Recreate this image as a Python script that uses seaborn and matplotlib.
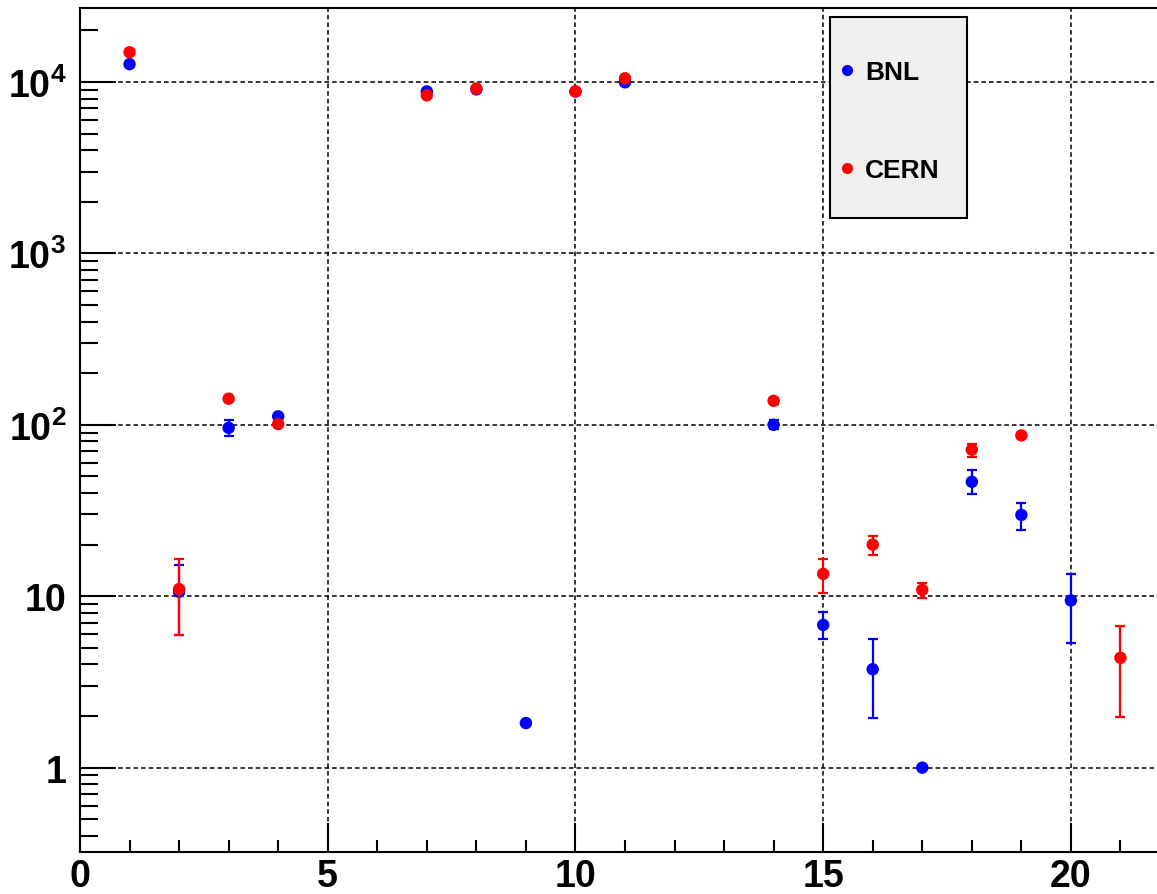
import numpy as np
import pandas as pd
import matplotlib
matplotlib.use("Agg")
import matplotlib.pyplot as plt
from matplotlib.ticker import MultipleLocator, LogLocator, FuncFormatter, NullFormatter
from matplotlib.lines import Line2D
from matplotlib.patches import Rectangle
import seaborn as sns

# ---- data ----
bnl_x = [1, 2, 3, 4, 7, 8, 9, 10, 11, 14, 15, 16, 17, 18, 19, 20]
bnl_y = [12700, 10.6, 96, 112, 8800, 9050, 1.82, 8800, 9950, 100, 6.8, 3.75, 1.0, 46.5, 29.8, 9.45]
bnl_lo = [110, 4.7, 10, 4, 95, 95, 0, 95, 100, 6, 1.2, 1.8, 0, 7.0, 5.5, 4.1]
bnl_hi = [110, 4.7, 10, 4, 95, 95, 0, 95, 100, 6, 1.3, 1.9, 0, 7.7, 5.2, 4.1]

cern_x = [1, 2, 3, 4, 7, 8, 10, 11, 14, 15, 16, 17, 18, 19, 21]
cern_y = [14900, 11.0, 142, 101, 8350, 9150, 8800, 10500, 138, 13.5, 20.0, 10.9, 71.6, 86.7, 4.37]
cern_lo = [120, 5.1, 5, 4, 90, 95, 95, 100, 5, 3.1, 2.5, 1.2, 6.7, 3.0, 2.4]
cern_hi = [120, 5.5, 5, 4, 90, 95, 95, 100, 5, 3.0, 2.6, 1.0, 5.7, 3.0, 2.3]

series_names = ["BNL", "CERN"]
series_colors = ["#0000ff", "#ff0000"]
x_ticklabels = ["0", "5", "10", "15", "20"]

# ---- style ----
sns.set_style("ticks")
plt.rcParams['font.family'] = ['Liberation Sans', 'DejaVu Sans']
plt.rcParams['mathtext.fontset'] = 'custom'
plt.rcParams['mathtext.rm'] = 'Liberation Sans:bold'
plt.rcParams['mathtext.bf'] = 'Liberation Sans:bold'
plt.rcParams['mathtext.it'] = 'Liberation Sans:bold'
plt.rcParams['text.color'] = 'black'

W, H = 1157, 895
fig = plt.figure(figsize=(W / 100, H / 100), dpi=100)
fig.patch.set_facecolor("white")
ax_left, ax_bottom = 80 / W, (H - 853) / H
ax_w, ax_h = (1170 - 80) / W, (853 - 9) / H
ax = fig.add_axes([ax_left, ax_bottom, ax_w, ax_h])

df_bnl = pd.DataFrame({"x": bnl_x, "y": bnl_y, "src": series_names[0]})
df_cern = pd.DataFrame({"x": cern_x, "y": cern_y, "src": series_names[1]})

ax.set_yscale("log")
ax.set_xlim(0, 22)
ax.set_ylim(0.322, 27000)
ax.set_axisbelow(True)

for df, lo, hi, col, z in [(df_bnl, bnl_lo, bnl_hi, series_colors[0], 3),
                           (df_cern, cern_lo, cern_hi, series_colors[1], 5)]:
    ax.errorbar(df["x"], df["y"], yerr=[lo, hi], fmt="none", ecolor=col,
                elinewidth=1.6, capsize=3.5, capthick=1.6, zorder=z)
    sns.scatterplot(data=df, x="x", y="y", color=col, s=80, linewidth=0,
                    edgecolor="none", ax=ax, legend=False, zorder=z + 1)

ax.set_xlabel("")
ax.set_ylabel("")

# grid
ax.grid(True, which="major", axis="both", color="black",
        linestyle=(0, (3, 2)), linewidth=1.1)
ax.grid(False, which="minor")

# ticks
ax.xaxis.set_major_locator(MultipleLocator(5))
ax.xaxis.set_minor_locator(MultipleLocator(1))
ax.xaxis.set_major_formatter(FuncFormatter(
    lambda v, p: x_ticklabels[int(round(v / 5))] if 0 <= round(v / 5) < len(x_ticklabels) else ""))
ax.yaxis.set_major_locator(LogLocator(base=10, numticks=20))
ax.yaxis.set_minor_locator(LogLocator(base=10, subs=np.arange(2, 10), numticks=50))
ax.yaxis.set_minor_formatter(NullFormatter())


def yfmt(v, p):
    e = int(round(np.log10(v)))
    if e == 0:
        return "1"
    if e == 1:
        return "10"
    return r"$10^{%d}$" % e


ax.yaxis.set_major_formatter(FuncFormatter(yfmt))

ax.tick_params(axis="y", which="major", direction="in", length=26, width=1.5,
               labelsize=27, pad=10, left=True, right=False, colors="black", labelcolor="black")
ax.tick_params(axis="y", which="minor", direction="in", length=13, width=1.5,
               left=True, right=False, colors="black")
ax.tick_params(axis="x", which="major", direction="in", length=21, width=1.5,
               labelsize=27, pad=4, bottom=True, top=False, colors="black", labelcolor="black")
ax.tick_params(axis="x", which="minor", direction="in", length=9, width=1.5,
               bottom=True, top=False, colors="black")
for lab in ax.get_xticklabels() + ax.get_yticklabels():
    lab.set_fontweight("bold")

for s in ax.spines.values():
    s.set_linewidth(1.5)
    s.set_color("black")

# legend box
rect = Rectangle((830 / W, (H - 219) / H), (967 - 830) / W, (219 - 18) / H,
                 transform=fig.transFigure, facecolor="#f0f0f0",
                 edgecolor="black", linewidth=1.5, zorder=10)
fig.patches.append(rect)
handles = [Line2D([], [], linestyle="none", marker="o", markersize=8,
                  markerfacecolor=c, markeredgecolor="none") for c in series_colors]
leg = fig.legend(handles, series_names, loc="upper left",
                 bbox_to_anchor=(823 / W, (H - 48) / H),
                 frameon=False, borderpad=0, handlelength=0.8, handletextpad=0.3,
                 labelspacing=2.8, labelcolor="black",
                 prop={"family": "Liberation Sans", "weight": "bold", "size": 19})
leg.set_zorder(11)

fig.savefig("out.png", dpi=100)
